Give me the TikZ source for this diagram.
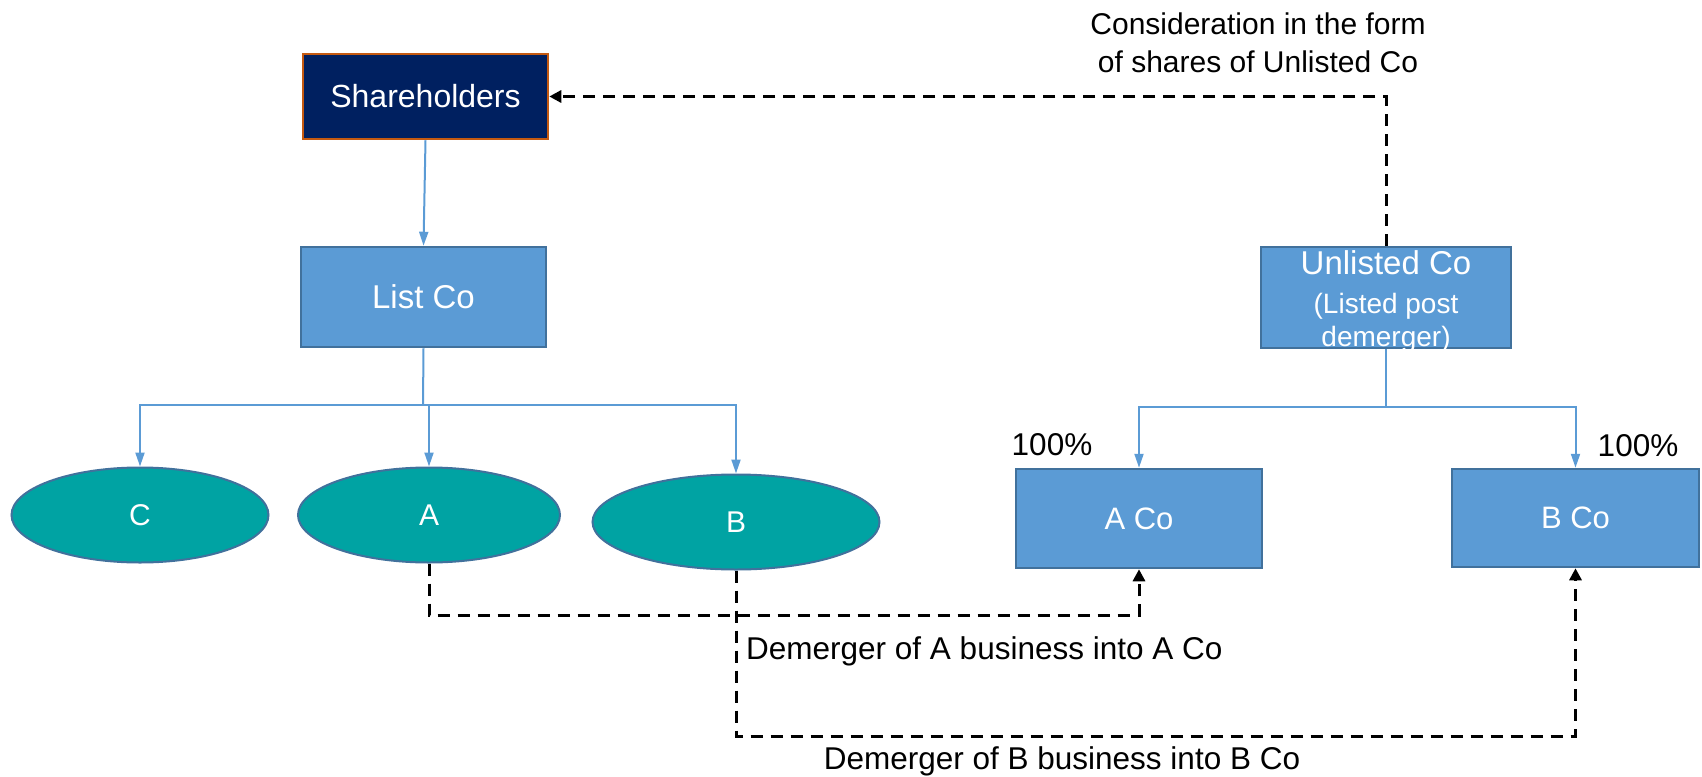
\documentclass[tikz,border=0pt]{standalone}
\usepackage{fontspec}
\setmainfont{Liberation Sans}
\usetikzlibrary{arrows.meta,shapes.geometric}
\definecolor{navy}{HTML}{002060}
\definecolor{rust}{HTML}{C55A11}
\definecolor{boxblue}{HTML}{5B9BD5}
\definecolor{boxedge}{HTML}{41719C}
\definecolor{teal}{HTML}{00A3A3}
\tikzset{
  sharebox/.style={draw=rust,line width=2.5bp,fill=navy,text=white,minimum width=245bp,minimum height=85bp,inner sep=0pt,font=\fontsize{32bp}{38bp}\selectfont},
  bluebox/.style={draw=boxedge,line width=2.5bp,fill=boxblue,text=white,inner sep=0pt,font=\fontsize{31bp}{37bp}\selectfont},
  oval/.style={ellipse,draw=boxedge,line width=2bp,fill=teal,text=white,inner sep=0pt,font=\fontsize{30bp}{36bp}\selectfont},
  tree/.style={draw=boxblue,line width=2bp,-{Triangle[width=9bp,length=14bp]}},
  treeplain/.style={draw=boxblue,line width=2bp},
  flow/.style={draw=black,line width=3bp,dash pattern=on 12bp off 8bp,-{Triangle[width=12bp,length=12bp]}},
  lbl/.style={text=black,inner sep=0pt,font=\fontsize{31.5bp}{39bp}\selectfont}
}
\begin{document}
\begin{tikzpicture}[x=1bp,y=-1bp]
\useasboundingbox (0,0) rectangle (1702,777);
\node[sharebox] (sh) at (425.5,96.5) {Shareholders};
\node[bluebox,minimum width=245bp,minimum height=100bp,font=\fontsize{33bp}{39bp}\selectfont] (list) at (423.5,297) {List Co};
\node[bluebox,minimum width=250bp,minimum height=101bp] (un) at (1386,297.5)
  {\raisebox{-12bp}[0pt][0pt]{\begin{tabular}{@{}c@{}}\fontsize{33bp}{38bp}\selectfont Unlisted Co\\[2bp]\fontsize{28bp}{31bp}\selectfont (Listed post\\[-4bp]\fontsize{28bp}{31bp}\selectfont demerger)\end{tabular}}};
\node[bluebox,minimum width=246bp,minimum height=99bp] (aco) at (1139,518.5) {A Co};
\node[bluebox,minimum width=247bp,minimum height=98bp] (bco) at (1575.5,518) {B Co};
\node[oval,minimum width=257bp,minimum height=95bp] (c) at (140,515) {C};
\node[oval,minimum width=262bp,minimum height=95bp] (a) at (429,515) {A};
\node[oval,minimum width=287bp,minimum height=95bp] (b) at (736,522) {B};
\coordinate (lj) at (423,405);
\coordinate (uj) at (1386,407);
\coordinate (ya) at (0,615);
\coordinate (yb) at (0,736);
% tree connectors
\draw[tree] (sh.south) -- (list.north);
\draw[treeplain] (list.south) -- (lj);
\draw[tree] (lj) -| (c.north);
\draw[tree] (lj) -| (a.north);
\draw[tree] (lj) -| (b.north);
\draw[treeplain] (un.south) -- (uj);
\draw[tree] (uj) -| (aco.north);
\draw[tree] (uj) -| (bco.north);
% flows
\draw[flow] (un.north) |- (sh.east);
\draw[flow] (a.south) -- (a.south |- ya) -| (aco.south);
\draw[flow] (b.south) -- (b.south |- yb) -| (bco.south);
% labels
\node[lbl,align=center,font=\fontsize{30bp}{38bp}\selectfont] (cons) at (1258,43) {Consideration in the form\\of shares of Unlisted Co};
\node[lbl,anchor=west] (dema) at (746,651) {Demerger of A business into A Co};
\node[lbl] (demb) at (1062,761) {Demerger of B business into B Co};
\node[lbl] (pa) at (1052,445) {100\%};
\node[lbl] (pb) at (1638,446) {100\%};
\end{tikzpicture}
\end{document}
